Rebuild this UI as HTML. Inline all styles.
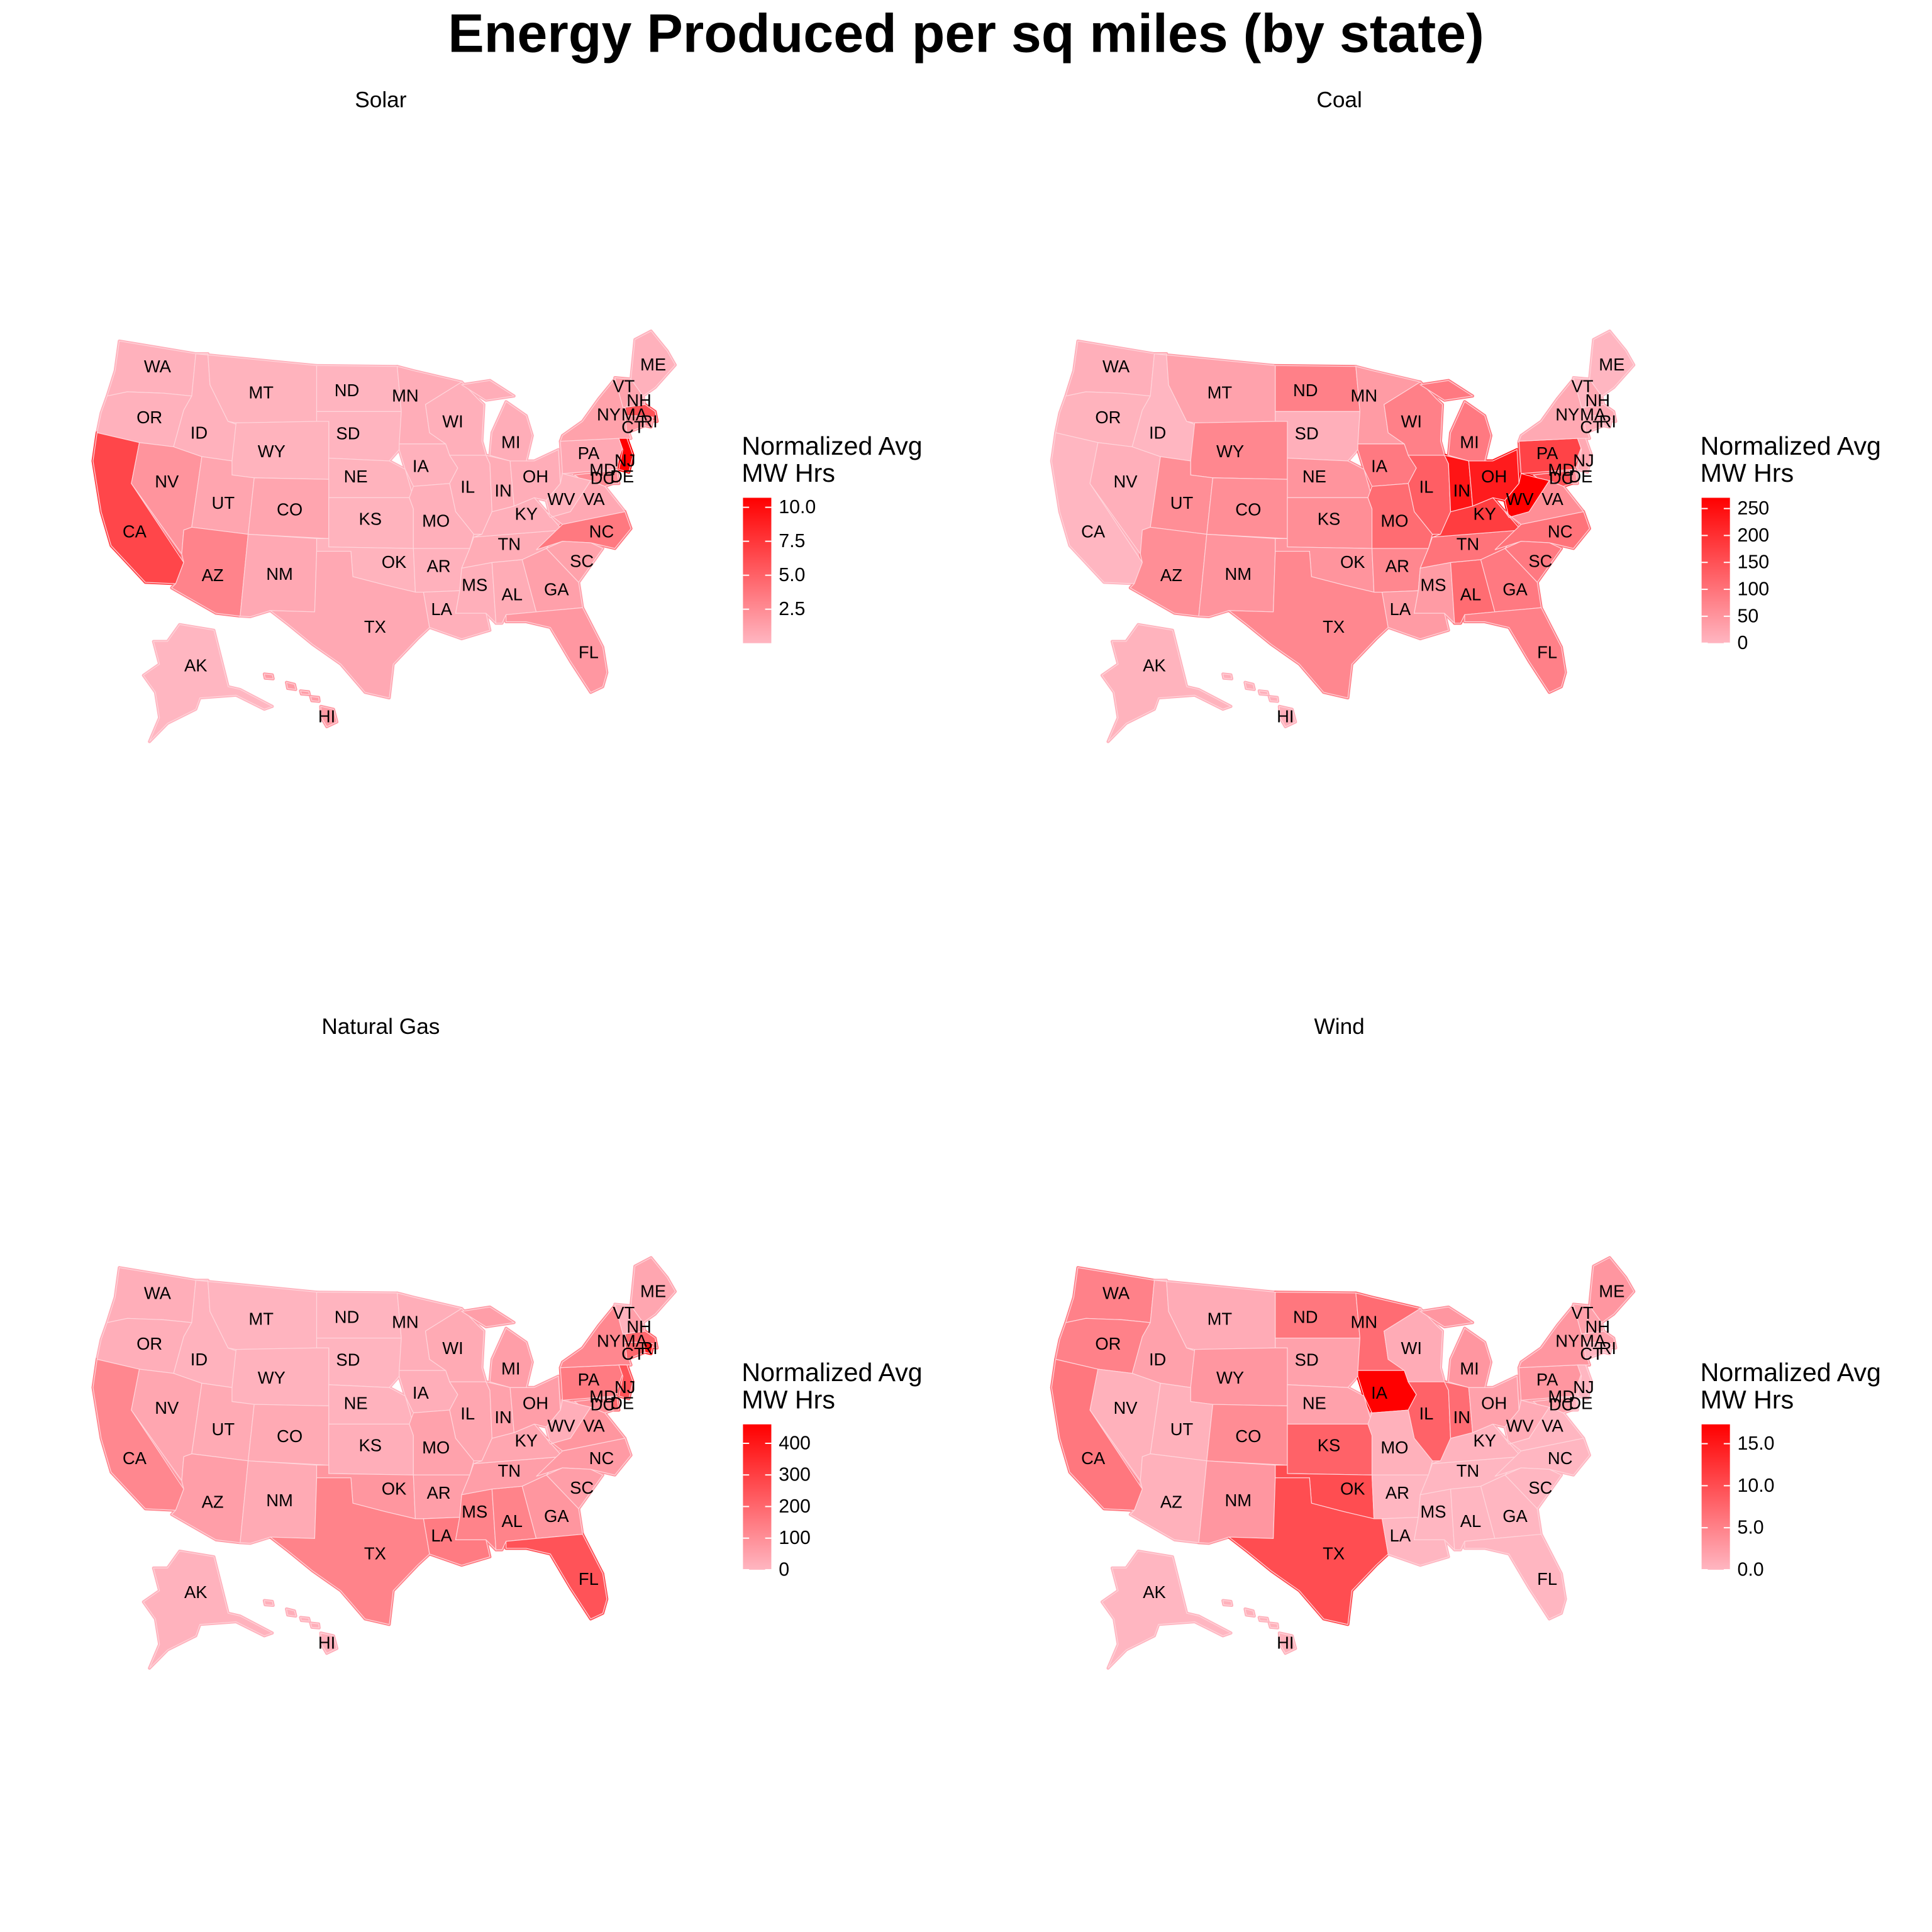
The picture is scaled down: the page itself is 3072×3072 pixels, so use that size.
<!DOCTYPE html>
<html><head><meta charset="utf-8"><style>
html,body{margin:0;padding:0;background:#fff;}
svg{display:block;font-family:"Liberation Sans",Arial,sans-serif;}
</style></head><body>
<svg id="chart" width="3072" height="3072" viewBox="0 0 1568 1568" xmlns="http://www.w3.org/2000/svg">
<text x="784" y="42" text-anchor="middle" font-size="44" font-weight="bold">Energy Produced per sq miles (by state)</text>
<g id="panels"></g>
</svg>
<script>
// ---- data ----
const states = ["WA","OR","CA","NV","ID","MT","ND","SD","WY","NE","UT","CO","AZ","NM","KS","OK","TX","MN","WI","IA","IL","MO","AR","LA","MS","AL","TN","KY","IN","OH","MI","PA","NY","VT","NH","ME","MA","RI","CT","NJ","DE","MD","WV","VA","NC","SC","GA","FL","AK","HI"];
const solarValues = [0.3,0.3,6.6,2.0,0.3,0.2,0.1,0.1,0.2,0.2,1.0,1.0,3.0,0.8,0.2,0.2,0.8,0.5,0.4,0.3,0.4,0.4,0.3,0.4,0.4,0.6,0.6,0.4,0.6,0.5,0.5,0.8,1.2,1.2,1.0,0.3,6.0,2.5,2.0,10.7,2.5,2.5,0.2,0.8,3.6,1.2,1.3,1.8,0.0,1.5];
const coalValues = [10,5,0,10,0,30,80,10,70,50,60,60,60,50,60,50,70,40,80,90,130,110,70,40,40,110,100,180,240,230,90,170,20,0,20,0,20,10,10,20,60,150,270,60,100,90,90,80,5,10];
const gasValues = [20,20,120,40,10,5,5,5,10,10,30,30,60,30,20,80,130,20,30,20,40,50,60,150,130,130,60,40,50,60,60,150,120,10,60,40,200,400,200,250,200,100,20,80,70,60,80,250,10,20];
const windValues = [5,5,6,0.5,2,1,6,2,3,2,0.5,4,0.5,3,8,10,10,7,1,17.3,8,0.5,0,0,0,0,0,0.3,7,2,3,3,3,2,2,3,2,0,0,0,0,2,1,0,0,0,0,0,0,0.5];
const panelTitles = ["Solar","Coal","Natural Gas","Wind"];
const panelMax = [10.7,270,460,17.3];
const solarTicks = [2.5,5.0,7.5,10.0];
const coalTicks = [0,50,100,150,200,250];
const gasTicks = [0,100,200,300,400];
const windTicks = [0,5,10,15];
const tickDigits = [1,0,0,1];

// ---- geometry (zoom-space polygons) ----
const shapes = {
WA:[[140,95],[330,140],[320,290],[250,280],[160,275],[110,290],[130,200]],
OR:[[110,290],[160,275],[250,280],[320,290],[300,340],[275,470],[190,455],[85,420],[95,350]],
CA:[[85,420],[190,455],[170,600],[300,880],[280,955],[205,950],[120,820],[95,700],[75,520]],
NV:[[190,455],[275,470],[345,505],[320,755],[300,765],[295,850],[170,600]],
ID:[[330,140],[360,140],[365,250],[410,380],[430,390],[420,520],[345,505],[275,470],[300,340],[320,290]],
MT:[[330,140],[630,182],[630,380],[430,385],[410,380],[365,250],[360,140]],
ND:[[630,182],[830,185],[840,345],[630,345]],
SD:[[630,345],[840,345],[835,480],[810,520],[660,510],[660,380],[630,380]],
WY:[[430,385],[630,380],[660,380],[660,585],[475,580],[420,570],[420,520]],
NE:[[660,510],[810,520],[850,550],[870,650],[660,650],[660,585]],
UT:[[345,505],[420,520],[420,570],[475,580],[460,780],[320,755]],
CO:[[475,580],[660,585],[660,795],[460,780]],
AZ:[[320,755],[460,780],[440,1070],[380,1060],[270,970],[280,955],[300,880],[295,850],[300,765]],
NM:[[460,780],[630,795],[630,840],[625,1055],[515,1050],[465,1072],[440,1070]],
KS:[[660,650],[860,650],[870,690],[870,830],[660,825],[660,795]],
OK:[[630,795],[660,795],[660,825],[870,830],[875,985],[800,960],[720,930],[715,840],[630,840]],
TX:[[630,840],[715,840],[720,930],[800,960],[875,985],[895,985],[910,1110],[880,1150],[820,1240],[810,1360],[750,1340],[690,1240],[620,1170],[560,1100],[515,1050],[625,1055]],
MN:[[830,185],[870,200],[990,240],[900,320],[910,420],[950,460],[835,460],[840,345]],
WI:[[900,320],[990,240],[1030,300],[1045,320],[1040,450],[1050,500],[960,500],[950,460],[910,420]],
IA:[[835,460],[950,460],[960,500],[980,545],[960,600],[870,610],[850,550],[835,480]],
IL:[[960,500],[1050,500],[1060,530],[1065,700],[1040,780],[1020,780],[975,700],[960,600],[980,545]],
MO:[[870,610],[960,600],[975,700],[1020,780],[1010,830],[870,830],[870,690],[860,650]],
AR:[[870,830],[1010,830],[990,900],[985,980],[895,985],[875,985]],
LA:[[895,985],[985,980],[975,1060],[1050,1060],[1060,1120],[990,1150],[910,1110]],
MS:[[990,900],[1065,880],[1075,1095],[1050,1060],[975,1060],[985,980]],
AL:[[1065,880],[1140,870],[1175,1055],[1100,1065],[1090,1095],[1075,1095]],
TN:[[1020,790],[1240,765],[1200,830],[1140,870],[1065,880],[990,900],[1010,830]],
KY:[[1040,780],[1065,700],[1120,680],[1170,650],[1200,700],[1240,765],[1020,790]],
IN:[[1050,500],[1110,520],[1120,680],[1065,700],[1060,530]],
OH:[[1110,520],[1170,520],[1230,480],[1235,600],[1200,660],[1170,650],[1120,680]],
MI:[[[1065,420],[1100,310],[1150,360],[1165,430],[1150,520],[1110,520],[1060,500]],[[990,250],[1060,235],[1120,290],[1050,305]]],
PA:[[1235,450],[1380,440],[1390,470],[1370,550],[1240,565]],
NY:[[1240,430],[1290,380],[1330,300],[1370,230],[1400,250],[1400,400],[1410,440],[1380,440],[1235,450]],
VT:[[1370,225],[1410,230],[1400,330],[1390,330]],
NH:[[1410,230],[1440,290],[1445,320],[1400,330]],
ME:[[1420,90],[1460,60],[1500,130],[1520,180],[1470,260],[1440,290],[1410,230]],
MA:[[1395,330],[1445,320],[1470,345],[1475,380],[1400,360]],
RI:[[1440,360],[1465,365],[1460,400],[1445,395]],
CT:[[1395,360],[1440,360],[1445,395],[1400,420]],
NJ:[[1380,440],[1400,440],[1415,500],[1405,560],[1380,550],[1390,480]],
DE:[[1360,555],[1375,550],[1380,600],[1365,600]],
MD:[[1270,570],[1360,555],[1365,600],[1345,610],[1310,590],[1280,580]],
WV:[[1235,600],[1240,565],[1280,580],[1310,590],[1260,700],[1210,720],[1200,660]],
VA:[[1200,700],[1210,720],[1260,700],[1310,590],[1345,610],[1395,700],[1240,745]],
NC:[[1240,745],[1395,700],[1410,760],[1370,830],[1310,810],[1240,805],[1175,835]],
SC:[[1200,830],[1240,805],[1310,810],[1340,830],[1280,950]],
GA:[[1140,870],[1200,830],[1280,950],[1290,1040],[1175,1055]],
FL:[[1100,1065],[1175,1055],[1290,1040],[1340,1180],[1350,1270],[1340,1320],[1310,1340],[1260,1230],[1210,1110],[1150,1090],[1100,1090]],
AK:[[290,1100],[375,1120],[410,1320],[440,1330],[520,1390],[500,1400],[430,1350],[340,1360],[330,1400],[260,1450],[215,1515],[240,1430],[230,1340],[200,1280],[240,1240],[225,1160],[260,1160]],
HI:[[[500,1275],[520,1278],[522,1292],[502,1290]],[[555,1305],[575,1312],[578,1330],[558,1326]],[[590,1335],[610,1338],[612,1348],[592,1346]],[[615,1355],[635,1358],[636,1372],[618,1370]],[[640,1390],[672,1400],[680,1445],[655,1462],[642,1430]]]
};
const labelPos = {WA:[235,185],OR:[215,365],CA:[178,770],NV:[258,592],ID:[338,420],MT:[492,277],WY:[518,485],UT:[398,668],CO:[563,692],AZ:[372,925],NM:[538,920],ND:[705,270],SD:[708,422],NE:[727,575],KS:[763,725],OK:[822,878],TX:[775,1108],MN:[850,288],IA:[888,538],MO:[926,732],AR:[933,893],LA:[940,1045],WI:[968,380],IL:[1005,612],MS:[1022,960],MI:[1112,453],IN:[1093,625],KY:[1150,708],TN:[1108,815],AL:[1115,993],OH:[1173,575],WV:[1237,655],VA:[1318,655],NC:[1337,770],SC:[1288,875],GA:[1225,975],FL:[1305,1198],PA:[1305,492],NY:[1355,355],VT:[1392,255],NH:[1430,305],MA:[1418,355],CT:[1415,400],RI:[1455,380],NJ:[1395,518],MD:[1340,552],DC:[1340,580],DE:[1388,575],ME:[1465,178],AK:[330,1245],HI:[655,1425]};
const labelOrder = states.concat(["DC"]);

const NS="http://www.w3.org/2000/svg";
const panelsG=document.getElementById('panels');
const offsets=[[0,0],[778,0],[0,752],[778,752]];
const allValues=[solarValues,coalValues,gasValues,windValues];
const allTicks=[solarTicks,coalTicks,gasTicks,windTicks];
function colorFor(v,max){
  const t=Math.max(0,Math.min(1,v/max));
  const g=Math.round(182*(1-t)), b=Math.round(193*(1-t));
  return `rgb(255,${g},${b})`;
}
function mk(tag,attrs){const e=document.createElementNS(NS,tag);for(const k in attrs)e.setAttribute(k,attrs[k]);return e;}
function rings(s){const sh=shapes[s];return Array.isArray(sh[0][0])?sh:[sh];}
const defs=mk('defs',{});
const lg=mk('linearGradient',{id:'grad',x1:0,y1:0,x2:0,y2:1});
lg.appendChild(mk('stop',{offset:'0','stop-color':'#ff0000'}));
lg.appendChild(mk('stop',{offset:'1','stop-color':'#ffb6c1'}));
defs.appendChild(lg);panelsG.appendChild(defs);

for(let p=0;p<4;p++){
  const [ox,oy]=offsets[p];
  const X=zx=>ox+51+zx*0.327, Y=zy=>oy+255+zy*0.229;
  const g=mk('g',{});
  
  
  const title=mk('text',{x:ox+309,y:oy+87,'text-anchor':'middle','font-size':18});
  
  
  title.textContent=panelTitles[p];g.appendChild(title);
  // underlay to close seams
  states.forEach((s,i)=>{
    const col=colorFor(allValues[p][i],panelMax[p]);
    rings(s).forEach(r=>{
      const pts=r.map(q=>X(q[0]).toFixed(1)+','+Y(q[1]).toFixed(1)).join(' ');
      const u=mk('polygon',{points:pts,fill:col,stroke:col,'stroke-width':2.5,'stroke-linejoin':'round'});
      
      
      g.appendChild(u);
    });
  });
  states.forEach((s,i)=>{
    const col=colorFor(allValues[p][i],panelMax[p]);
    const d=rings(s).map(r=>'M'+r.map(q=>X(q[0]).toFixed(1)+','+Y(q[1]).toFixed(1)).join('L')+'Z').join(' ');
    const poly=mk('path',{d:d,fill:col,stroke:'#ffd6dc','stroke-width':0.6});
    
    
    g.appendChild(poly);
  });
  labelOrder.forEach(s=>{
    const lp=labelPos[s];
    if(!lp) return;
    const t=mk('text',{x:X(lp[0]).toFixed(1),y:Y(lp[1]).toFixed(1),'text-anchor':'middle','dominant-baseline':'central','font-size':14});
    
    
    t.textContent=s;g.appendChild(t);
  });
  // legend
  const lt1=mk('text',{x:ox+602,y:oy+369,'font-size':21});
  
  
  lt1.textContent='Normalized Avg';g.appendChild(lt1);
  const lt2=mk('text',{x:ox+602,y:oy+391,'font-size':21});
  
  
  lt2.textContent='MW Hrs';g.appendChild(lt2);
  const top=oy+404,bot=oy+522;
  const bar=mk('rect',{x:ox+603,y:top,width:23,height:bot-top,fill:'url(#grad)'});
  
  
  g.appendChild(bar);
  allTicks[p].forEach(v=>{
    const y=bot-(v/panelMax[p])*(bot-top);
    const tl=mk('text',{x:ox+632,y:y.toFixed(1),'dominant-baseline':'central','font-size':15.5});
    
    
    tl.textContent=v.toFixed(tickDigits[p]);g.appendChild(tl);
    const tk1=mk('line',{x1:ox+603,x2:ox+608,y1:y,y2:y,stroke:'#fff','stroke-width':1});
    
    
    g.appendChild(tk1);
    const tk2=mk('line',{x1:ox+621,x2:ox+626,y1:y,y2:y,stroke:'#fff','stroke-width':1});
    
    
    g.appendChild(tk2);
  });
  panelsG.appendChild(g);
}
</script>
</body></html>
